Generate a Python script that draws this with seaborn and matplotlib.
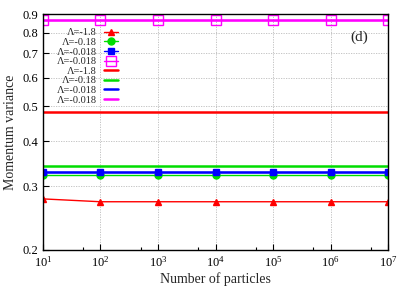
import numpy as np
import pandas as pd
import matplotlib
matplotlib.use("Agg")
import matplotlib.pyplot as plt
import seaborn as sns
from matplotlib.ticker import FixedLocator, FixedFormatter, LogFormatterMathtext, NullLocator

# ============================================================
# DATA
# ============================================================

n_particles = [1e1, 1e2, 1e3, 1e4, 1e5, 1e6, 1e7]

var_lam_1p8 = [0.277, 0.272, 0.272, 0.272, 0.272, 0.272, 0.272]
var_lam_0p18 = [0.322, 0.322, 0.322, 0.322, 0.322, 0.322, 0.322]
var_lam_0p018 = [0.329, 0.329, 0.329, 0.329, 0.329, 0.329, 0.329]
var_lam_0p018b = [0.866, 0.866, 0.866, 0.866, 0.866, 0.866, 0.866]

ref_labels = ["Λ=-1.8", "Λ=-0.18", "Λ=-0.018", "Λ=-0.018"]
ref_values = [0.482, 0.3416, 0.329, 0.866]

y_ticks = [0.2, 0.3, 0.4, 0.5, 0.6, 0.7, 0.8, 0.9]
y_tick_labels = ["0.2", "0.3", "0.4", "0.5", "0.6", "0.7", "0.8", "0.9"]

# ============================================================
# STYLE
# ============================================================

sns.set_style("ticks")
plt.rcParams["font.family"] = ["Liberation Serif", "DejaVu Serif"]
plt.rcParams["mathtext.fontset"] = "custom"
plt.rcParams["mathtext.rm"] = "Liberation Serif"
plt.rcParams["mathtext.it"] = "Liberation Serif:italic"

colors = ["#ff0000", "#00dd00", "#0000ff", "#ff00ff"]

fig = plt.figure(figsize=(4.09, 2.87), dpi=100)
ax = fig.add_axes([0.105, 0.129, 0.844, 0.822])

# ============================================================
# MARKER SERIES
# ============================================================

series = [
    (var_lam_1p8, "^", 4.5, colors[0], True),
    (var_lam_0p18, "o", 5, colors[1], True),
    (var_lam_0p018, "s", 5, colors[2], True),
    (var_lam_0p018b, "s", 6.5, colors[3], False),
]

for (vals, mk, ms, col, filled), lab in zip(series, ref_labels):

    df = pd.DataFrame({"n": n_particles, "v": vals})

    sns.lineplot(
        data=df,
        x="n",
        y="v",
        ax=ax,
        color=col,
        lw=1.0,
        marker=mk,
        markersize=ms,
        markerfacecolor=col if filled else "none",
        markeredgecolor=col,
        markeredgewidth=1.0,
        label=lab,
    )

# ============================================================
# REFERENCE LINES
# ============================================================

for val, col, lab in zip(ref_values, colors, ref_labels):

    ax.axhline(val, color=col, lw=1.8, label=lab)

# ============================================================
# AXES
# ============================================================

ax.set_xscale("log")
ax.set_yscale("log")

ax.set_xlim(1e1, 1e7)
ax.set_ylim(0.2, 0.9)

ax.yaxis.set_major_locator(FixedLocator(y_ticks))
ax.yaxis.set_major_formatter(FixedFormatter(y_tick_labels))
ax.yaxis.set_minor_locator(NullLocator())

ax.xaxis.set_major_locator(FixedLocator(n_particles))
ax.xaxis.set_major_formatter(LogFormatterMathtext())
ax.xaxis.set_minor_locator(FixedLocator([5 * x for x in n_particles[:-1]]))

ax.tick_params(axis="both", which="both", direction="in", labelsize=9,
               top=False, right=False, colors="black")
ax.tick_params(axis="both", which="major", length=4, width=0.8)
ax.tick_params(axis="x", which="minor", length=2, width=0.8)

ax.grid(True, which="major", color="#bbbbbb", linestyle=(0, (1.5, 1.5)), lw=0.6)

for sp in ax.spines.values():
    sp.set_color("black")
    sp.set_linewidth(1.0)

ax.set_xlabel("Number of particles", fontsize=10, labelpad=2)
ax.set_ylabel("Momentum variance", fontsize=10, labelpad=4)

ax.text(0.915, 0.90, "(d)", transform=ax.transAxes, fontsize=11,
        ha="center", va="center")

leg = ax.legend(
    loc="upper right",
    bbox_to_anchor=(0.229, 0.958),
    markerfirst=False,
    frameon=False,
    fontsize=7.5,
    handlelength=1.3,
    handletextpad=0.7,
    labelspacing=0.03,
    borderaxespad=0.0,
)

fig.savefig("out.png", dpi=100)
